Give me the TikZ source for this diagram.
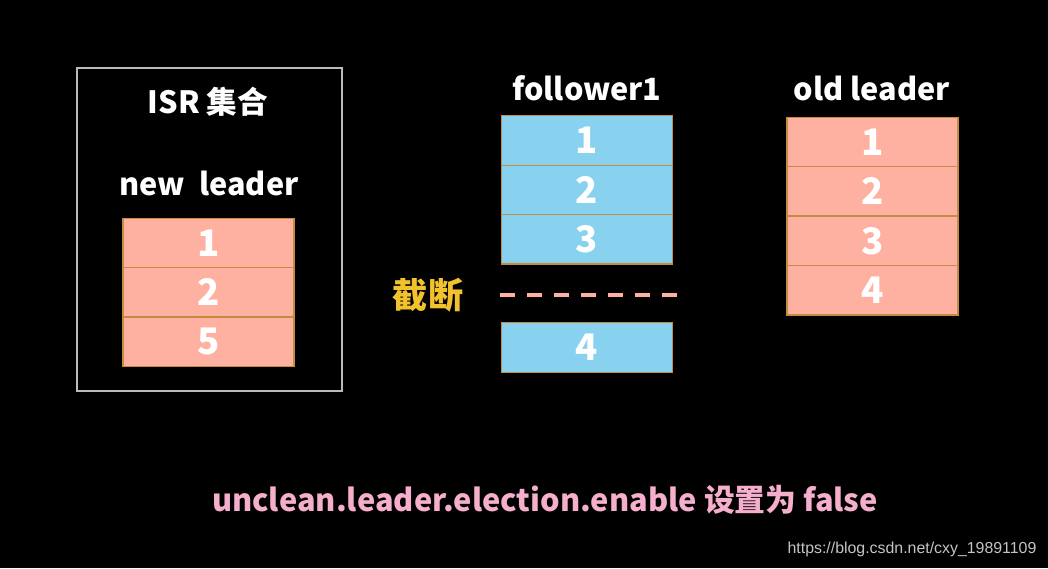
\documentclass[tikz,border=0pt]{standalone}
\usepackage{fontspec}
\setmainfont{Noto Sans CJK SC}
\setsansfont{Liberation Sans}
\usetikzlibrary{positioning}
\definecolor{salmon}{HTML}{FFB1A1}
\definecolor{sky}{HTML}{88D2EF}
\definecolor{rim}{HTML}{C48C40}
\definecolor{gold}{HTML}{F2C12E}
\definecolor{pinktext}{HTML}{F5AECB}
\definecolor{framegray}{HTML}{B9B9BE}
\definecolor{urlgray}{HTML}{C4C4C4}

\begin{document}
\begin{tikzpicture}[
    x=0.025cm, y=-0.025cm,
    every node/.style={font=\bfseries\fontsize{21.8}{25}\selectfont, text=white, inner sep=0pt},
    cell/.style={draw=rim, line width=0.9pt, outer sep=0pt, minimum width=4.28cm,
        minimum height=1.235cm, font=\bfseries\fontsize{26}{30}\selectfont},
    redcell/.style={cell, fill=salmon},
    bluecell/.style={cell, fill=sky},
]
\fill[black] (0,0) rectangle (1048,568);

% ---------------- left: ISR set
\draw[framegray, line width=1.4pt] (77,68) rectangle (342,391);
\node (isr) at (208,102) {ISR 集合};
\node (newlab) at (209,183) {new\ \ leader};
\node[redcell] (nl1) at (208.5,243) {1};
\foreach \n [count=\i from 2, remember=\i as \j (initially 1)] in {2,5}
    \node[redcell, below=0pt of nl\j] (nl\i) {\n};

% ---------------- middle: follower1
\node (folab) at (587,88) {follower1};
\node[bluecell] (fo1) at (587,140.5) {1};
\foreach \n [count=\i from 2, remember=\i as \j (initially 1)] in {2,3}
    \node[bluecell, below=0pt of fo\j] (fo\i) {\n};
\node[bluecell] (fo4) at (587,347.5) {4};

\coordinate (cutL) at (500,295);
\coordinate (cutR) at (679,295);
\draw[salmon, line width=3pt, dash pattern=on 10.7pt off 8.5pt] (cutL) -- (cutR);
\node[text=gold, font=\bfseries\fontsize{25}{28}\selectfont] (cut) at (428,295) {截断};

% ---------------- right: old leader
\node (oldlab) at (872,88) {old leader};
\node[redcell] (ol1) at (872.5,142) {1};
\foreach \n [count=\i from 2, remember=\i as \j (initially 1)] in {2,3,4}
    \node[redcell, below=0pt of ol\j] (ol\i) {\n};

% ---------------- bottom
\node[text=pinktext, font=\bfseries\fontsize{21.9}{26}\selectfont] (note) at (545,500)
    {unclean.leader.election.enable 设置为 false};
\node[text=urlgray, font=\sffamily\fontsize{11.3}{14}\selectfont] (url) at (912,549)
    {https://blog.csdn.net/cxy\_19891109};

\end{tikzpicture}
\end{document}
